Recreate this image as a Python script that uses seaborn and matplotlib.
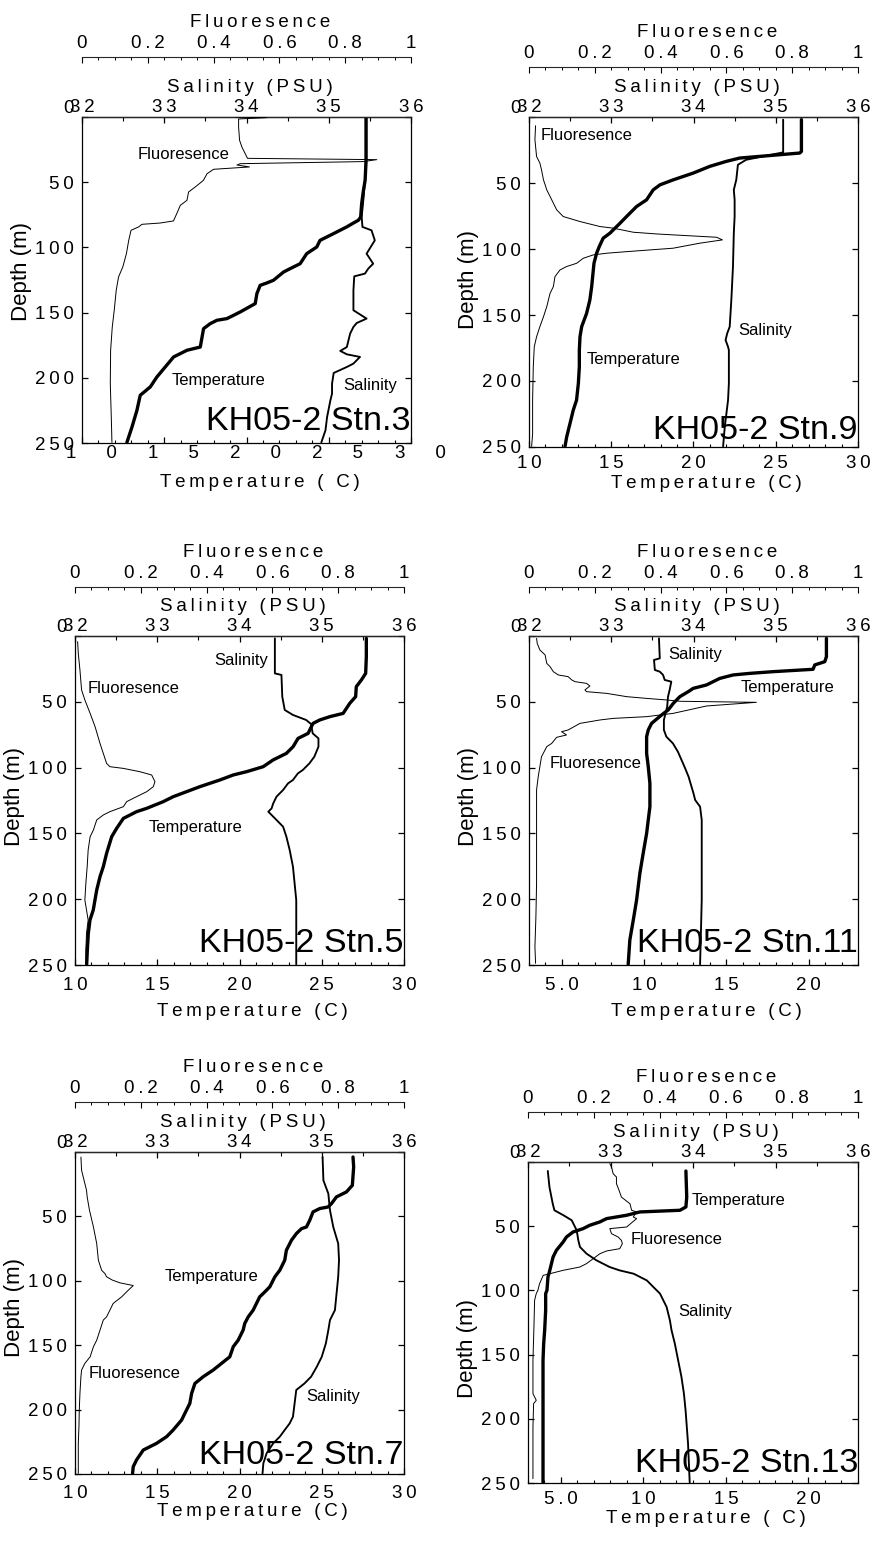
import matplotlib
matplotlib.use("Agg")
import matplotlib.pyplot as plt
import matplotlib.transforms as mtransforms
from matplotlib.ticker import MultipleLocator
import seaborn as sns

# ---------------- CTD profiles, cruise KH05-2 ----------------
# depth (m) and value pairs for each station

# Stn.3
STN3_FLU_D = [0.0, 0.5, 1.5, 7.7, 17.9, 23.0, 28.1, 31.7, 32.7, 34.2, 35.8, 36.8, 38.3, 40.1, 43.5, 48.6, 53.7, 57.5, 63.9, 67.7,
              74.1, 79.7, 81.3, 82.3, 84.3, 86.9, 94.6, 104.8, 115.0, 122.7, 132.9, 148.2, 161.0, 178.9, 204.5, 230.0, 249.5]
STN3_FLU = [0.466, 0.562, 0.476, 0.476, 0.479, 0.486, 0.496, 0.503, 0.896, 0.855, 0.481, 0.471, 0.509, 0.400, 0.380, 0.369, 0.344, 0.324, 0.319, 0.299,
            0.288, 0.278, 0.238, 0.182, 0.172, 0.149, 0.142, 0.135, 0.124, 0.111, 0.104, 0.098, 0.092, 0.087, 0.086, 0.089, 0.091]
STN3_TEM_D = [0.5, 33.2, 48.6, 56.2, 66.5, 76.7, 79.2, 81.3, 84.3, 89.5, 94.6, 99.7, 104.8, 112.5, 116.3, 118.9, 125.2, 127.3, 129.1, 135.5,
              143.1, 149.5, 152.1, 154.6, 155.9, 158.5, 162.3, 176.4, 178.9, 184.0, 191.7, 199.4, 207.0, 213.4, 224.9, 237.7, 249.5]
STN3_TEM = [27.27, 27.27, 27.21, 27.11, 27.00, 26.94, 26.80, 26.50, 26.09, 25.28, 24.47, 24.27, 23.66, 23.26, 22.65, 22.25, 21.64, 21.23, 20.83, 20.63,
            20.53, 19.62, 19.21, 18.81, 18.20, 17.79, 17.39, 17.19, 16.38, 15.57, 15.06, 14.55, 14.15, 13.54, 13.34, 13.04, 12.73]
STN3_SAL_D = [0.5, 33.2, 48.6, 63.9, 76.7, 84.3, 86.9, 94.6, 104.8, 112.5, 116.3, 120.1, 122.2, 132.9, 148.2, 154.6, 158.0, 161.0, 166.1, 176.4,
              179.4, 182.0, 184.0, 189.1, 191.7, 196.3, 204.5, 212.1, 217.3, 230.0, 240.3, 249.5]
STN3_SAL = [35.45, 35.45, 35.44, 35.42, 35.40, 35.41, 35.52, 35.56, 35.46, 35.54, 35.48, 35.44, 35.31, 35.30, 35.30, 35.46, 35.34, 35.30, 35.26, 35.22,
            35.14, 35.22, 35.38, 35.30, 35.22, 35.06, 35.04, 35.04, 35.02, 34.98, 34.96, 34.91]

# Stn.9
STN9_FLU_D = [6.6, 17.2, 29.9, 34.9, 40.0, 47.6, 55.2, 62.7, 70.3, 75.4, 79.2, 83.0, 84.2, 87.3, 88.6, 89.3, 91.1, 93.1, 95.6, 99.4,
              102.0, 103.2, 104.5, 107.0, 110.8, 113.3, 115.9, 120.9, 128.5, 133.6, 143.7, 151.3, 158.9, 166.5, 174.1, 189.2, 214.5, 239.8, 249.5]
STN9_FLU = [0.020, 0.018, 0.023, 0.033, 0.038, 0.044, 0.054, 0.069, 0.084, 0.104, 0.155, 0.216, 0.256, 0.317, 0.388, 0.438, 0.570, 0.588, 0.519, 0.438,
            0.297, 0.236, 0.195, 0.165, 0.145, 0.114, 0.094, 0.079, 0.074, 0.064, 0.054, 0.044, 0.033, 0.023, 0.016, 0.013, 0.011, 0.011, 0.008]
STN9_TEM_D = [2.0, 26.1, 27.3, 31.1, 33.6, 37.4, 42.5, 47.6, 51.4, 55.2, 62.7, 67.8, 75.4, 80.5, 88.0, 91.8, 98.2, 103.2, 110.8, 120.9,
              128.5, 138.6, 148.8, 158.9, 166.5, 176.6, 189.2, 201.9, 214.5, 222.1, 232.3, 242.4, 249.5]
STN9_TEM = [26.56, 26.56, 26.46, 22.81, 22.00, 20.99, 19.98, 18.77, 17.96, 17.55, 17.15, 16.54, 15.93, 15.53, 14.92, 14.51, 14.27, 14.11, 13.95, 13.87,
            13.81, 13.70, 13.50, 13.20, 13.10, 13.06, 13.06, 13.00, 12.89, 12.69, 12.49, 12.29, 12.19]
STN9_SAL_D = [2.0, 26.8, 32.4, 36.2, 47.6, 55.2, 62.7, 75.4, 88.0, 113.3, 138.6, 158.9, 163.9, 169.0, 174.1, 176.6, 189.2, 201.9, 214.5, 224.7,
              234.8, 249.5]
STN9_SAL = [35.09, 35.09, 34.64, 34.54, 34.52, 34.49, 34.50, 34.50, 34.49, 34.48, 34.46, 34.44, 34.41, 34.39, 34.42, 34.43, 34.43, 34.43, 34.42, 34.40,
            34.38, 34.36]

# Stn.5
STN5_FLU_D = [4.3, 13.2, 25.8, 41.0, 48.6, 58.8, 68.9, 81.6, 89.2, 96.8, 99.3, 100.6, 103.1, 105.6, 110.7, 114.5, 118.3, 122.1, 125.9, 129.7,
              133.5, 136.0, 139.8, 147.4, 152.5, 162.6, 175.3, 188.0, 200.6, 208.2, 215.8, 225.9, 238.6, 249.5]
STN5_FLU = [0.008, 0.010, 0.015, 0.020, 0.030, 0.046, 0.061, 0.076, 0.086, 0.096, 0.106, 0.147, 0.197, 0.233, 0.243, 0.238, 0.218, 0.187, 0.157, 0.147,
            0.106, 0.086, 0.066, 0.056, 0.046, 0.040, 0.037, 0.033, 0.030, 0.035, 0.040, 0.035, 0.033, 0.033]
STN5_TEM_D = [1.8, 15.7, 28.4, 33.4, 38.5, 46.1, 51.2, 58.8, 61.3, 63.8, 66.4, 68.9, 74.0, 77.8, 84.1, 89.2, 94.2, 99.3, 103.1, 105.6,
              109.4, 114.5, 118.3, 122.1, 125.9, 131.0, 133.5, 138.6, 146.2, 152.5, 165.2, 175.3, 182.9, 193.0, 208.2, 215.8, 225.9, 238.6, 249.5]
STN5_TEM = [27.71, 27.71, 27.67, 27.41, 27.10, 27.06, 26.70, 26.30, 25.49, 24.88, 24.47, 24.37, 24.17, 23.56, 23.26, 22.85, 22.04, 21.44, 20.43, 19.62,
            18.81, 17.59, 16.78, 15.97, 15.36, 14.35, 13.74, 12.94, 12.53, 12.23, 11.92, 11.72, 11.52, 11.32, 11.11, 10.91, 10.81, 10.75, 10.71]
STN5_SAL_D = [1.8, 28.4, 29.6, 46.1, 56.2, 60.0, 63.8, 66.9, 74.0, 77.8, 84.1, 91.7, 96.8, 101.8, 104.4, 109.4, 112.0, 117.0, 122.1, 127.2,
              131.0, 133.5, 136.0, 139.8, 144.9, 152.5, 162.6, 175.3, 188.0, 200.6, 225.9, 249.5]
STN5_SAL = [34.43, 34.43, 34.51, 34.52, 34.55, 34.65, 34.81, 34.87, 34.89, 34.96, 34.96, 34.91, 34.85, 34.77, 34.71, 34.65, 34.59, 34.53, 34.45, 34.41,
            34.39, 34.35, 34.39, 34.45, 34.53, 34.57, 34.61, 34.65, 34.67, 34.69, 34.69, 34.69]

# Stn.11
STN11_FLU_D = [1.8, 5.6, 10.6, 14.4, 20.8, 23.3, 27.1, 29.6, 30.9, 33.4, 34.7, 36.0, 38.0, 41.0, 42.3, 43.6, 46.1, 47.4, 48.6, 49.6,
               50.4, 53.2, 58.8, 61.3, 62.6, 63.8, 66.4, 71.4, 72.7, 75.2, 77.0, 81.6, 84.1, 91.7, 99.3, 106.9, 117.0, 137.3, 162.6, 188.0,
               213.3, 236.1, 248.7]
STN11_FLU = [0.023, 0.025, 0.033, 0.049, 0.054, 0.064, 0.074, 0.089, 0.119, 0.130, 0.140, 0.175, 0.185, 0.170, 0.175, 0.236, 0.297, 0.357, 0.418, 0.459,
             0.691, 0.539, 0.438, 0.357, 0.256, 0.216, 0.155, 0.119, 0.099, 0.114, 0.084, 0.069, 0.054, 0.038, 0.033, 0.028, 0.023, 0.023, 0.023, 0.023,
             0.021, 0.018, 0.020]
STN11_TEM_D = [1.8, 15.7, 19.5, 22.0, 25.3, 27.1, 28.4, 29.6, 32.2, 37.2, 39.8, 42.3, 46.1, 51.2, 56.2, 60.0, 66.4, 71.4, 76.5, 89.2,
               99.3, 112.0, 129.7, 139.8, 150.0, 165.2, 180.3, 200.6, 215.8, 231.0, 249.5]
STN11_TEM = [21.08, 21.08, 20.98, 20.37, 20.27, 17.84, 16.42, 15.41, 14.60, 13.79, 12.98, 12.68, 12.17, 11.77, 11.46, 11.06, 10.45, 10.25, 10.15, 10.15,
             10.25, 10.35, 10.35, 10.25, 10.15, 9.94, 9.74, 9.54, 9.34, 9.13, 9.03]
STN11_SAL_D = [1.8, 17.0, 18.2, 25.8, 27.1, 29.6, 33.4, 34.7, 41.0, 46.1, 53.7, 58.8, 63.8, 71.4, 76.5, 81.6, 87.9, 99.3, 106.9, 119.6,
               124.6, 129.7, 139.8, 150.0, 175.3, 200.6, 225.9, 249.5]
STN11_SAL = [33.58, 33.59, 33.52, 33.53, 33.59, 33.63, 33.65, 33.73, 33.71, 33.69, 33.68, 33.66, 33.64, 33.64, 33.67, 33.75, 33.81, 33.89, 33.94, 34.00,
             34.02, 34.08, 34.10, 34.10, 34.10, 34.10, 34.09, 34.08]

# Stn.7
STN7_FLU_D = [3.9, 14.2, 29.7, 34.9, 45.2, 58.2, 71.1, 84.0, 91.8, 94.4, 96.9, 99.5, 101.6, 103.7, 107.3, 112.4, 117.6, 128.0, 130.5, 138.3,
              146.1, 151.2, 159.0, 164.1, 169.3, 174.5, 187.4, 200.3, 213.3, 226.2, 249.5]
STN7_FLU = [0.018, 0.020, 0.035, 0.037, 0.044, 0.056, 0.066, 0.071, 0.081, 0.091, 0.096, 0.114, 0.137, 0.177, 0.162, 0.142, 0.116, 0.096, 0.086, 0.076,
            0.066, 0.056, 0.046, 0.030, 0.020, 0.018, 0.015, 0.013, 0.012, 0.010, 0.010]
STN7_TEM_D = [3.9, 11.6, 25.9, 31.0, 34.9, 40.1, 42.7, 43.9, 46.5, 53.0, 58.2, 59.5, 63.3, 68.5, 76.3, 84.0, 91.8, 96.9, 104.7, 109.9,
              112.4, 117.6, 122.8, 128.0, 133.1, 138.3, 146.1, 151.2, 159.0, 164.1, 169.3, 174.5, 179.7, 187.4, 195.2, 200.3, 208.1, 215.8, 221.0, 226.2,
              231.4, 239.1, 244.3, 249.5]
STN7_TEM = [26.90, 26.94, 26.86, 26.50, 25.89, 25.59, 25.38, 24.88, 24.47, 24.27, 24.07, 23.77, 23.46, 23.16, 22.85, 22.75, 22.45, 22.15, 21.84, 21.44,
            21.23, 21.03, 20.83, 20.53, 20.32, 20.22, 19.92, 19.62, 19.41, 18.91, 18.40, 17.79, 17.29, 17.09, 16.98, 16.78, 16.48, 15.97, 15.57, 14.96,
            14.15, 13.74, 13.54, 13.50]
STN7_SAL_D = [3.9, 22.0, 32.3, 45.2, 58.2, 71.1, 84.0, 96.9, 109.9, 122.8, 130.5, 138.3, 148.6, 159.0, 166.7, 174.5, 179.7, 184.8, 195.2, 205.5,
              210.7, 215.8, 221.0, 226.2, 233.9, 241.7, 249.5]
STN7_SAL = [35.01, 35.02, 35.08, 35.10, 35.14, 35.20, 35.21, 35.20, 35.18, 35.16, 35.10, 35.08, 35.05, 35.00, 34.94, 34.87, 34.79, 34.69, 34.67, 34.65,
            34.61, 34.55, 34.49, 34.41, 34.33, 34.29, 34.28]

# Stn.13
STN13_FLU_D = [1.3, 3.9, 9.1, 11.7, 16.9, 22.1, 27.3, 32.5, 37.6, 38.9, 42.8, 44.1, 50.6, 51.9, 55.8, 58.4, 61.0, 63.6, 67.5, 69.3,
               71.4, 79.2, 81.8, 84.4, 87.0, 88.3, 94.8, 99.9, 102.5, 107.7, 128.5, 154.5, 180.4, 185.6, 188.2, 206.4, 232.3, 246.6]
STN13_FLU = [0.248, 0.253, 0.258, 0.268, 0.268, 0.276, 0.283, 0.309, 0.314, 0.329, 0.319, 0.329, 0.299, 0.248, 0.253, 0.273, 0.283, 0.286, 0.278, 0.238,
             0.218, 0.177, 0.157, 0.106, 0.066, 0.046, 0.035, 0.030, 0.025, 0.020, 0.018, 0.015, 0.015, 0.025, 0.017, 0.015, 0.015, 0.015]
STN13_TEM_D = [7.0, 27.3, 35.0, 37.6, 38.9, 41.5, 44.1, 46.7, 49.3, 51.9, 54.5, 58.4, 62.3, 68.8, 74.0, 79.2, 84.4, 89.6, 99.9, 102.5,
               115.5, 131.1, 141.5, 154.5, 193.4, 249.5]
STN13_TEM = [12.57, 12.62, 12.57, 12.21, 9.78, 8.97, 7.76, 7.35, 6.74, 6.34, 5.73, 5.33, 5.13, 4.72, 4.52, 4.42, 4.32, 4.21, 4.15, 4.07,
             4.07, 4.01, 3.95, 3.91, 3.91, 3.91]
STN13_SAL_D = [7.0, 19.5, 32.5, 37.6, 41.5, 45.4, 53.2, 61.0, 66.2, 71.4, 76.6, 81.8, 84.4, 87.0, 89.6, 92.2, 97.4, 102.5, 107.7, 112.9,
               123.3, 131.1, 141.5, 154.5, 167.4, 180.4, 193.4, 219.4, 249.5]
STN13_SAL = [32.24, 32.26, 32.30, 32.32, 32.43, 32.53, 32.59, 32.61, 32.63, 32.71, 32.83, 32.99, 33.11, 33.28, 33.36, 33.44, 33.52, 33.60, 33.64, 33.68,
             33.72, 33.74, 33.78, 33.82, 33.86, 33.89, 33.91, 33.94, 33.96]

# ---------------- axis scales and tick labels ----------------
DEPTH_TICKS = [0, 50, 100, 150, 200, 250]
SAL_TICKS = [32, 33, 34, 35, 36]
FLU_TICKS = [0, 0.2, 0.4, 0.6, 0.8, 1]
FLU_LABELS = ["0", "0.2", "0.4", "0.6", "0.8", "1"]
TEMP_WARM = (10, 30)
TEMP_WARM_TICKS = [10, 15, 20, 25, 30]
TEMP_WARM_LABELS = ["10", "15", "20", "25", "30"]
TEMP_STN3_LABELS = ["1     \u20090", "1     \u20095", "2     \u20090", "2     \u20095", "3     \u20090"]
TEMP_COLD = (3, 23)
TEMP_COLD_TICKS = [5, 10, 15, 20]
TEMP_COLD_LABELS = ["5.0", "10", "15", "20"]

STATIONS = ["KH05-2 Stn.3", "KH05-2 Stn.9", "KH05-2 Stn.5",
            "KH05-2 Stn.11", "KH05-2 Stn.7", "KH05-2 Stn.13"]
TEMP_TITLES = ["Temperature ( C)", "Temperature (C)", "Temperature (C)",
               "Temperature (C)", "Temperature (C)", "Temperature ( C)"]

# ---------------- styling ----------------
sns.set_theme(style="ticks")
plt.rcParams["font.family"] = ["Liberation Sans", "DejaVu Sans"]
plt.rcParams["axes.linewidth"] = 0.9
plt.rcParams["xtick.color"] = "black"
plt.rcParams["ytick.color"] = "black"
plt.rcParams["text.color"] = "black"
plt.rcParams["axes.labelcolor"] = "black"

TICK_FS = 13.5
TITLE_FS = 13.5
DEPTH_FS = 16
CURVE_FS = 12
STATION_FS = 24.5
INK = "black"

THIN = "\u2009"


def spaced(s):
    """Loosely tracked text, like the plotting package that made these profiles."""
    return THIN.join(s)


W, H = 878, 1544
fig = plt.figure(figsize=(W / 100, H / 100), dpi=100)
fig.patch.set_facecolor("white")

# frame (left, top, right, bottom) in pixels, offset of the fluorescence scale,
# bottom tick pad and bottom title pad (points), depth-label height (axes fraction)
layout = [
    dict(frame=(82, 117, 411, 443), fl_off=60, bpad=1.7, blab=8.5, ylab=0.525),
    dict(frame=(529, 117, 858, 447), fl_off=50, bpad=5.8, blab=2.2, ylab=0.509),
    dict(frame=(75, 636, 404, 965), fl_off=49, bpad=8.4, blab=7.0, ylab=0.511),
    dict(frame=(529, 636, 858, 965), fl_off=49, bpad=8.4, blab=7.0, ylab=0.511),
    dict(frame=(75, 1152, 404, 1474), fl_off=50, bpad=8.0, blab=0.5, ylab=0.516),
    dict(frame=(528, 1162, 858, 1483), fl_off=50, bpad=5.8, blab=1.5, ylab=0.42),
]

profiles = [
    (STN3_TEM_D, STN3_TEM, STN3_SAL_D, STN3_SAL, STN3_FLU_D, STN3_FLU),
    (STN9_TEM_D, STN9_TEM, STN9_SAL_D, STN9_SAL, STN9_FLU_D, STN9_FLU),
    (STN5_TEM_D, STN5_TEM, STN5_SAL_D, STN5_SAL, STN5_FLU_D, STN5_FLU),
    (STN11_TEM_D, STN11_TEM, STN11_SAL_D, STN11_SAL, STN11_FLU_D, STN11_FLU),
    (STN7_TEM_D, STN7_TEM, STN7_SAL_D, STN7_SAL, STN7_FLU_D, STN7_FLU),
    (STN13_TEM_D, STN13_TEM, STN13_SAL_D, STN13_SAL, STN13_FLU_D, STN13_FLU),
]

temp_axes = [
    (TEMP_WARM, TEMP_WARM_TICKS, TEMP_STN3_LABELS),
    (TEMP_WARM, TEMP_WARM_TICKS, TEMP_WARM_LABELS),
    (TEMP_WARM, TEMP_WARM_TICKS, TEMP_WARM_LABELS),
    (TEMP_COLD, TEMP_COLD_TICKS, TEMP_COLD_LABELS),
    (TEMP_WARM, TEMP_WARM_TICKS, TEMP_WARM_LABELS),
    (TEMP_COLD, TEMP_COLD_TICKS, TEMP_COLD_LABELS),
]

# in-frame curve labels (axes fraction, centred)
curve_labels = [
    [("Fluoresence", 0.309, 0.885), ("Temperature", 0.415, 0.192), ("Salinity", 0.876, 0.177)],
    [("Fluoresence", 0.175, 0.943), ("Salinity", 0.717, 0.354), ("Temperature", 0.319, 0.266)],
    [("Salinity", 0.506, 0.927), ("Fluoresence", 0.177, 0.839), ("Temperature", 0.367, 0.418)],
    [("Salinity", 0.504, 0.944), ("Temperature", 0.787, 0.844), ("Fluoresence", 0.203, 0.613)],
    [("Temperature", 0.415, 0.612), ("Fluoresence", 0.182, 0.312), ("Salinity", 0.784, 0.240)],
    [("Temperature", 0.638, 0.881), ("Fluoresence", 0.450, 0.759), ("Salinity", 0.538, 0.535)],
]
station_y = [0.040, 0.024, 0.040, 0.040, 0.031, 0.034]

for i, (lay, prof, tax) in enumerate(zip(layout, profiles, temp_axes)):
    l, t, r, b = lay["frame"]
    ax = fig.add_axes([l / W, 1 - b / H, (r - l) / W, (b - t) / H])
    ax_s = ax.twiny()
    ax_f = ax.twiny()

    tem_d, tem, sal_d, sal, flu_d, flu = prof
    sns.lineplot(x=tem, y=tem_d, ax=ax, sort=False, estimator=None,
                 color=INK, linewidth=2.4)
    sns.lineplot(x=sal, y=sal_d, ax=ax_s, sort=False, estimator=None,
                 color=INK, linewidth=1.35)
    sns.lineplot(x=flu, y=flu_d, ax=ax_f, sort=False, estimator=None,
                 color=INK, linewidth=0.7)

    # ---- depth + temperature frame
    (tmin, tmax), tticks, tlabels = tax
    ax.set_xlim(tmin, tmax)
    ax.set_ylim(250, 0)
    ax.set_xticks(tticks, labels=[spaced(s) if i != 0 else s for s in tlabels])
    ax.xaxis.set_minor_locator(MultipleLocator(1))
    ax.set_yticks(DEPTH_TICKS, labels=[spaced(str(d)) for d in DEPTH_TICKS])
    ax.tick_params(axis="both", which="both", direction="in", colors=INK,
                   labelsize=TICK_FS)
    ax.tick_params(axis="y", which="major", left=True, right=True,
                   length=4, width=0.9, pad=6)
    ax.tick_params(axis="x", which="major", length=4, width=0.9,
                   pad=lay["bpad"])
    ax.tick_params(axis="x", which="minor", length=2.5, width=0.8)
    ax.yaxis.get_ticklabels()[0].set_verticalalignment("bottom")
    for sp in ax.spines.values():
        sp.set_color(INK)
        sp.set_linewidth(0.9)
    ax.set_xlabel(spaced(TEMP_TITLES[i]), fontsize=TITLE_FS,
                  labelpad=lay["blab"])
    ax.xaxis.label.set_x(0.54)
    ax.set_ylabel("Depth (m)", fontsize=DEPTH_FS)
    ax.yaxis.set_label_coords(-0.152, lay["ylab"])
    if i == 0:
        shift = mtransforms.ScaledTranslation(9 / 100, 0, fig.dpi_scale_trans)
        for lab in ax.get_xticklabels():
            lab.set_transform(lab.get_transform() + shift)

    # ---- salinity scale on the frame top
    ax_s.set_xlim(32, 36)
    ax_s.set_xticks(SAL_TICKS, labels=[spaced(str(s)) for s in SAL_TICKS])
    ax_s.xaxis.set_minor_locator(MultipleLocator(0.5))
    ax_s.tick_params(axis="x", which="both", direction="in", top=True,
                     bottom=False, labelsize=TICK_FS, colors=INK)
    ax_s.tick_params(axis="x", which="major", length=4, width=0.9, pad=0.8)
    ax_s.tick_params(axis="x", which="minor", length=3, width=0.8)
    for side in ("left", "right", "bottom"):
        ax_s.spines[side].set_visible(False)
    ax_s.spines["top"].set_linewidth(0.9)
    ax_s.set_xlabel(spaced("Salinity (PSU)"), fontsize=TITLE_FS, labelpad=5.0)
    ax_s.xaxis.label.set_x(0.51)

    # ---- fluorescence scale floating above
    ax_f.set_xlim(0, 1)
    ax_f.set_xticks(FLU_TICKS, labels=[spaced(s) for s in FLU_LABELS])
    ax_f.xaxis.set_minor_locator(MultipleLocator(0.05))
    ax_f.tick_params(axis="x", which="both", direction="in", top=True,
                     bottom=False, labelsize=TICK_FS, colors=INK)
    ax_f.tick_params(axis="x", which="major", length=4, width=0.8, pad=3.3)
    ax_f.tick_params(axis="x", which="minor", length=2.5, width=0.7)
    for side in ("left", "right", "bottom"):
        ax_f.spines[side].set_visible(False)
    ax_f.spines["top"].set_position(("outward", lay["fl_off"] * 0.72))
    ax_f.spines["top"].set_linewidth(0.8)
    ax_f.set_xlabel(spaced("Fluoresence"), fontsize=TITLE_FS, labelpad=6.2)
    ax_f.xaxis.label.set_x(0.54)

    # ---- annotations
    for text, fx, fy in curve_labels[i]:
        ax.text(fx, fy, text, transform=ax.transAxes, fontsize=CURVE_FS,
                ha="center", va="center", color=INK)
    ax.text(1.0, station_y[i], STATIONS[i], transform=ax.transAxes,
            fontsize=STATION_FS, ha="right", va="baseline", color=INK)

fig.savefig("out.png", dpi=100, facecolor="white")
